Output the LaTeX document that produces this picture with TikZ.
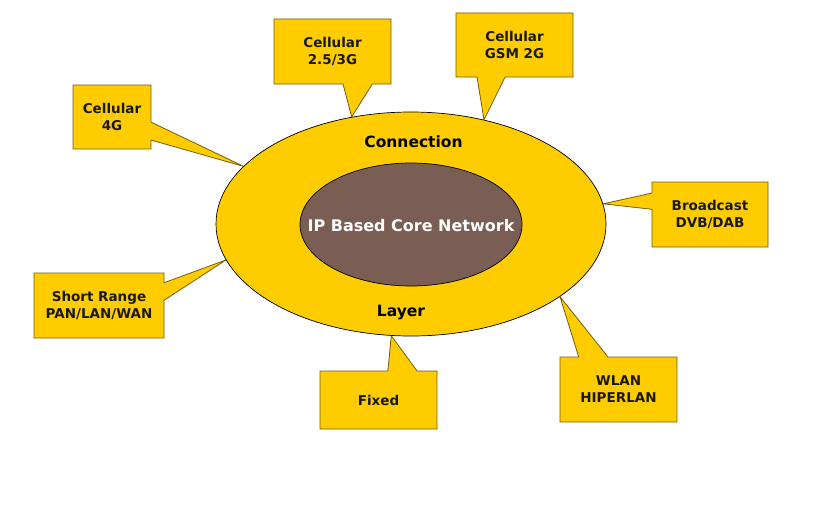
\documentclass[tikz,border=0pt]{standalone}
\usepackage{fontspec}
\setmainfont{DejaVu Sans}
\usetikzlibrary{calc, backgrounds, shapes.geometric}

\definecolor{ringyellow}{RGB}{255,204,0}
\definecolor{corebrown}{RGB}{122,94,84}
\definecolor{boxedge}{RGB}{115,92,10}

\begin{document}
\begin{tikzpicture}[x=1pt, y=-1pt,
        box/.style={inner sep=0pt, outer sep=0pt, align=center, text=black!90,
            font=\bfseries\fontsize{13.5}{17}\selectfont},
        callout/.style={draw=boxedge, fill=ringyellow, line width=0.8pt, line join=miter},
        ringtext/.style={anchor=base, inner sep=0pt, font=\bfseries\fontsize{15.5}{18}\selectfont}]
        \useasboundingbox (0,0) rectangle (826,511);

        % the two rings
        \node[ellipse, draw, line width=0.7pt, fill=ringyellow, minimum width=390, minimum height=224] (ring) at (411,224) {};
        \node[ellipse, draw, line width=0.7pt, fill=corebrown, minimum width=222, minimum height=123] (core) at (411,224.5) {};
        \node[ringtext, text=white, font=\bfseries\fontsize{16}{18}\selectfont] (ip) at (411,231) {IP Based Core Network};
        \node[ringtext] (conn) at (413.5,147) {Connection};
        \node[ringtext] (layer) at (401,316) {Layer};

        % boxes
        \node[box, minimum width=78, minimum height=64] (c4g) at (112,117) {Cellular\\4G};
        \node[box, minimum width=117, minimum height=65] (c3g) at (332.5,51.5) {Cellular\\2.5/3G};
        \node[box, minimum width=117, minimum height=64] (cgsm) at (514.5,45) {Cellular\\GSM 2G};
        \node[box, minimum width=116, minimum height=65] (bcast) at (710,214.5) {Broadcast\\DVB/DAB};
        \node[box, minimum width=130, minimum height=65] (short) at (99,305.5) {Short Range\\PAN/LAN/WAN};
        \node[box, minimum width=117, minimum height=58] (fixed) at (378.5,400) {Fixed};
        \node[box, minimum width=117, minimum height=65] (wlan) at (618.5,389.5) {WLAN\\HIPERLAN};

        % pointer tips on the outer ring
        \coordinate (t4g) at (ring.161);
        \coordinate (t3g) at (ring.119);
        \coordinate (tgsm) at (ring.55);
        \coordinate (tbcast) at (ring.6);
        \coordinate (tshort) at (ring.191);
        \coordinate (tfixed) at (ring.260);
        \coordinate (twlan) at (ring.334);

        \begin{scope}[on background layer]
        \draw[callout] (c4g.north west) -- (c4g.north east) -- ($(c4g.north east)!0.58!(c4g.south east)$) -- (t4g)
            -- ($(c4g.north east)!0.86!(c4g.south east)$) -- (c4g.south east) -- (c4g.south west) -- cycle;
        \draw[callout] (c3g.north west) -- (c3g.north east) -- (c3g.south east) -- ($(c3g.south west)!0.84!(c3g.south east)$)
            -- (t3g) -- ($(c3g.south west)!0.59!(c3g.south east)$) -- (c3g.south west) -- cycle;
        \draw[callout] (cgsm.north west) -- (cgsm.north east) -- (cgsm.south east) -- ($(cgsm.south west)!0.42!(cgsm.south east)$)
            -- (tgsm) -- ($(cgsm.south west)!0.18!(cgsm.south east)$) -- (cgsm.south west) -- cycle;
        \draw[callout] (bcast.north west) -- (bcast.north east) -- (bcast.south east) -- (bcast.south west)
            -- ($(bcast.north west)!0.42!(bcast.south west)$) -- (tbcast) -- ($(bcast.north west)!0.17!(bcast.south west)$) -- cycle;
        \draw[callout] (short.north west) -- (short.north east) -- ($(short.north east)!0.15!(short.south east)$) -- (tshort)
            -- ($(short.north east)!0.42!(short.south east)$) -- (short.south east) -- (short.south west) -- cycle;
        \draw[callout] (fixed.north west) -- ($(fixed.north west)!0.58!(fixed.north east)$) -- (tfixed)
            -- ($(fixed.north west)!0.83!(fixed.north east)$) -- (fixed.north east) -- (fixed.south east) -- (fixed.south west) -- cycle;
        \draw[callout] (wlan.north west) -- ($(wlan.north west)!0.16!(wlan.north east)$) -- (twlan)
            -- ($(wlan.north west)!0.41!(wlan.north east)$) -- (wlan.north east) -- (wlan.south east) -- (wlan.south west) -- cycle;
        \end{scope}
    \end{tikzpicture}
\end{document}
